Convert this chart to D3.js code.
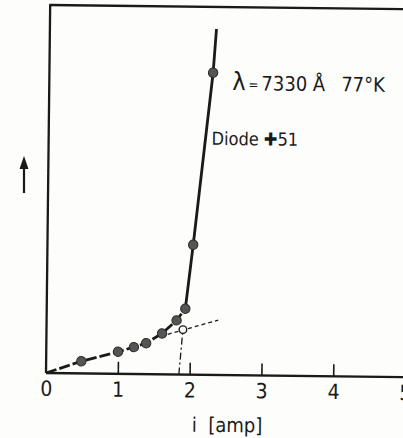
<!DOCTYPE html>
<html>
<head>
<meta charset="utf-8">
<script src="https://cdn.jsdelivr.net/npm/d3@7"></script>
<style>
html,body{margin:0;padding:0;background:#fdfdfb;}
svg{display:block;}
text{font-family:"DejaVu Sans Condensed","Liberation Sans Narrow","DejaVu Sans",sans-serif;fill:#1a1a1a;}
</style>
</head>
<body>
<div id="chart"></div>
<script>
// Measured points (current i in amp, relative intensity in arbitrary units)
const currentLow = [0, 0.49, 1.0, 1.22, 1.39, 1.61, 1.81, 1.93];
const intensityLow = [0, 0.33, 0.60, 0.73, 0.84, 1.11, 1.47, 1.79];
const currentHigh = [1.93, 2.03, 2.28, 2.32];
const intensityHigh = [1.79, 3.53, 8.21, 9.40];
const pointCurrent = [0.49, 1.0, 1.22, 1.39, 1.61, 1.81, 1.93, 2.03, 2.28];
const pointIntensity = [0.33, 0.60, 0.73, 0.84, 1.11, 1.47, 1.79, 3.53, 8.21];
// Threshold construction
const extCurrent = [1.69, 2.39];
const extIntensity = [1.09, 1.49];
const threshCurrent = [1.85, 1.90];
const threshIntensity = [0, 1.22];
const xTicks = [0, 1, 2, 3, 4, 5];

const W = 403, H = 438;
const svg = d3.select("#chart").append("svg").attr("width", W).attr("height", H);

const x = d3.scaleLinear().domain([0, 5]).range([46, 405]);
const y = d3.scaleLinear().domain([0, 10]).range([373, 5]);

const g = svg.append("g").attr("transform", "rotate(0.65,46,373)");
const ink = "#1a1a1a";

// frame: left axis, top border, x axis
g.append("line").attr("x1", x(0)).attr("y1", y(0)).attr("x2", x(0)).attr("y2", y(10))
  .attr("stroke", ink).attr("stroke-width", 2.3);
g.append("line").attr("x1", x(0) - 1).attr("y1", y(10)).attr("x2", x(5.6)).attr("y2", y(10))
  .attr("stroke", ink).attr("stroke-width", 2.3);

// tick marks (upward)
const tickAxis = g.append("g").attr("transform", `translate(0,${y(0)})`)
  .call(d3.axisTop(x).tickValues(xTicks.filter(d => d > 0)).tickSize(12).tickFormat(""));
tickAxis.select(".domain").remove();
tickAxis.selectAll(".tick line").attr("stroke", ink).attr("stroke-width", 1.6);

g.append("line").attr("x1", x(0)).attr("y1", y(0)).attr("x2", x(5.6)).attr("y2", y(0))
  .attr("stroke", ink).attr("stroke-width", 2.3);

// tick labels
const labAxis = g.append("g").attr("transform", `translate(0,${y(0)})`)
  .call(d3.axisBottom(x).tickValues(xTicks).tickSize(0).tickPadding(8).tickFormat(d3.format("d")));
labAxis.select(".domain").remove();
labAxis.selectAll(".tick text").attr("font-size", 21).attr("fill", ink)
  .style("font-family", '"DejaVu Sans Condensed","Liberation Sans Narrow",sans-serif');

// x axis title
g.append("text").attr("x", x(2.53)).attr("y", 430).attr("text-anchor", "middle")
  .attr("font-size", 20).style("white-space", "pre").attr("xml:space", "preserve").text("i  [amp]");

const line = d3.line().x(d => x(d[0])).y(d => y(d[1]));

// threshold construction lines
g.append("path").datum(d3.zip(extCurrent, extIntensity)).attr("d", line)
  .attr("fill", "none").attr("stroke", ink).attr("stroke-width", 1.3).attr("stroke-dasharray", "4,3");
g.append("path").datum(d3.zip(threshCurrent, threshIntensity)).attr("d", line)
  .attr("fill", "none").attr("stroke", ink).attr("stroke-width", 1.3).attr("stroke-dasharray", "7,3,2,3");

// data curve
g.append("path").datum(d3.zip(currentLow, intensityLow)).attr("d", line)
  .attr("fill", "none").attr("stroke", ink).attr("stroke-width", 2.8).attr("stroke-dasharray", "11,3");
g.append("path").datum(d3.zip(currentHigh, intensityHigh)).attr("d", line)
  .attr("fill", "none").attr("stroke", ink).attr("stroke-width", 2.8);

// points
g.selectAll("circle.pt").data(d3.zip(pointCurrent, pointIntensity)).join("circle")
  .attr("class", "pt").attr("cx", d => x(d[0])).attr("cy", d => y(d[1])).attr("r", 4.7)
  .attr("fill", "#555").attr("stroke", "#2a2a2a").attr("stroke-width", 1);

// open threshold circle
g.append("circle").attr("cx", x(threshCurrent[1])).attr("cy", y(threshIntensity[1])).attr("r", 3.8)
  .attr("fill", "#fdfdfb").attr("stroke", ink).attr("stroke-width", 1.4);

// annotations
g.append("text").attr("x", 229).attr("y", 88).attr("font-size", 20)
  .html('<tspan font-size="25">λ</tspan><tspan font-size="13" dx="3" dy="-1">=</tspan><tspan dx="3" dy="1">7330 Å</tspan><tspan dx="16">77°K</tspan>');
g.append("text").attr("x", 209).attr("y", 143).attr("font-size", 18).text("Diode ✚51");

// y-direction arrow
svg.append("line").attr("x1", 24).attr("y1", 193).attr("x2", 24).attr("y2", 165)
  .attr("stroke", ink).attr("stroke-width", 2.2);
svg.append("path").attr("d", "M24,156 L19.5,169 L28.5,169 Z").attr("fill", ink);
</script>
</body>
</html>
